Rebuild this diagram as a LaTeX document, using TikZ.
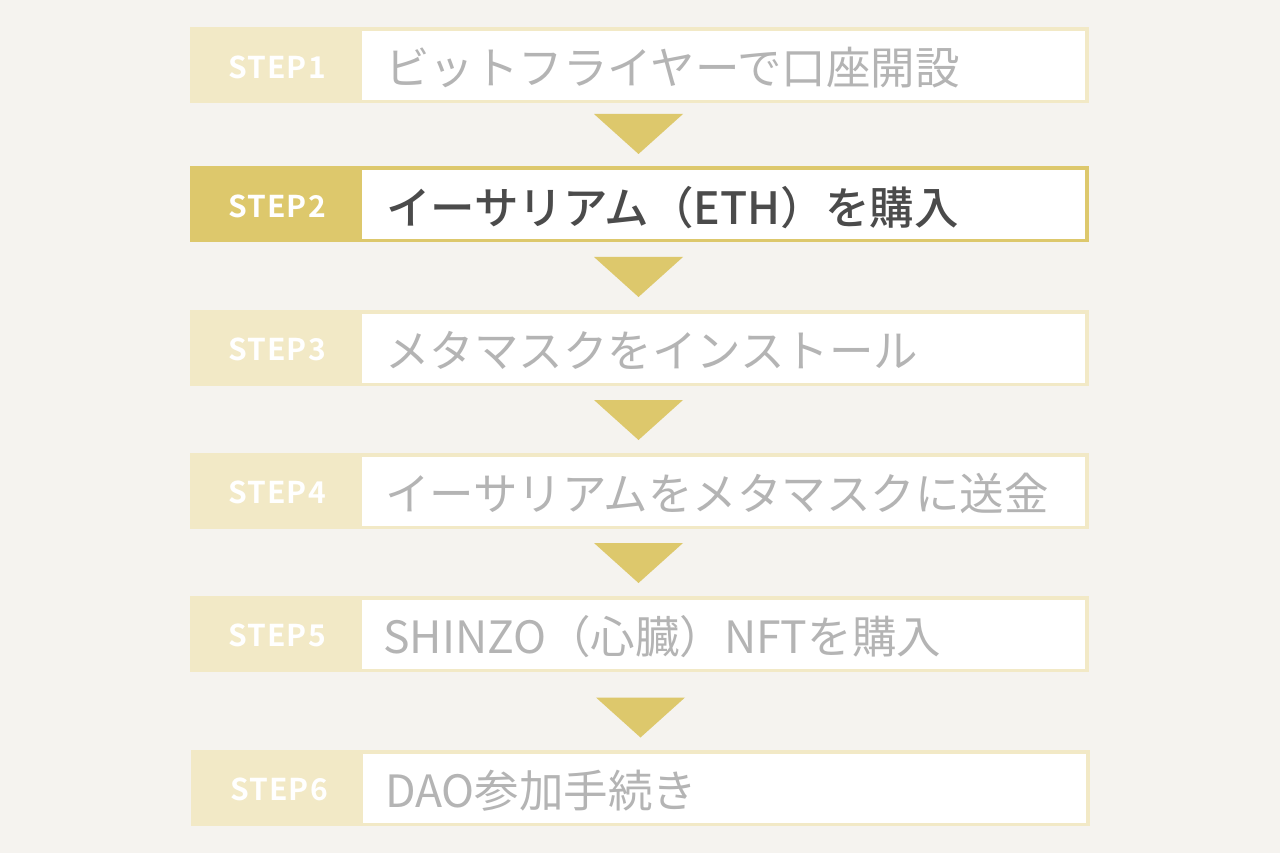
\documentclass[tikz,border=0pt]{standalone}
\usepackage{fontspec}
\setmainfont{Noto Sans CJK JP}
\newfontfamily\mediumfont{Noto Sans CJK JP Medium}
\newfontfamily\stepfont[LetterSpace=4]{Noto Sans CJK JP Bold}
\usetikzlibrary{positioning,calc}

\definecolor{bgcol}{HTML}{F5F3EF}
\definecolor{palegold}{HTML}{F2E9C6}
\definecolor{gold}{HTML}{DDC86C}
\definecolor{greytext}{HTML}{B4B4B4}
\definecolor{darktext}{HTML}{4B4B4B}

\tikzset{
    stepbox/.style={fill=palegold, minimum width=899pt, minimum height=76pt, inner sep=0pt},
    activebox/.style={stepbox, fill=gold},
    whitebox/.style={fill=white, minimum width=723pt, minimum height=69pt, inner sep=0pt, anchor=east},
    steplabel/.style={text=white, font=\stepfont\fontsize{30}{30}\selectfont, inner sep=0pt},
    steptext/.style={text=greytext, font=\fontsize{44.5}{44.5}\selectfont, inner sep=0pt, anchor=west},
    activetext/.style={steptext, text=darktext, font=\mediumfont\fontsize{44.5}{44.5}\selectfont},
    downarrow/.style={fill=gold}
}

\begin{document}
\begin{tikzpicture}[x=1pt,y=-1pt]
        \fill[bgcol] (0,0) rectangle (1280,853);
        \useasboundingbox (0,0) rectangle (1280,853);

        %%% Boxes
        \node[stepbox] (box1) at (639.5,65) {};
        \node[whitebox] (white1) at ([xshift=-4pt,yshift=-0.5pt]box1.east) {};
        \node[steplabel] (label1) at (277,67) {STEP1};
        \node[steptext] (text1) at (385,68) {ビットフライヤーで口座開設};

        \node[activebox] (box2) at (639.5,204.5) {};
        \node[whitebox] (white2) at ([xshift=-4pt,yshift=-0.5pt]box2.east) {};
        \node[steplabel] (label2) at (277,206.5) {STEP2};
        \node[activetext] (text2) at (386,207.5) {イーサリアム（ETH）を購入};

        \node[stepbox] (box3) at (639.5,347.5) {};
        \node[whitebox] (white3) at ([xshift=-4pt,yshift=-0.5pt]box3.east) {};
        \node[steplabel] (label3) at (277,349.5) {STEP3};
        \node[steptext] (text3) at (385,350.5) {メタマスクをインストール};

        \node[stepbox] (box4) at (639.5,490.5) {};
        \node[whitebox] (white4) at ([xshift=-4pt,yshift=-0.5pt]box4.east) {};
        \node[steplabel] (label4) at (277,492.5) {STEP4};
        \node[steptext] (text4) at (385,493.5) {イーサリアムをメタマスクに送金};

        \node[stepbox] (box5) at (639.5,633.5) {};
        \node[whitebox] (white5) at ([xshift=-4pt,yshift=-0.5pt]box5.east) {};
        \node[steplabel] (label5) at (277,635.5) {STEP5};
        \node[steptext] (text5) at (383,636.5) {SHINZO（心臓）NFTを購入};

        \node[stepbox] (box6) at (640.5,787.5) {};
        \node[whitebox] (white6) at ([xshift=-4pt,yshift=-0.5pt]box6.east) {};
        \node[steplabel] (label6) at (279,789.5) {STEP6};
        \node[steptext] (text6) at (385,790.5) {DAO参加手続き};

        %%% Arrows
        \coordinate (arrow1) at (638.5,134);
        \coordinate (arrow2) at (638.5,277);
        \coordinate (arrow3) at (638.5,420);
        \coordinate (arrow4) at (638.5,563);
        \coordinate (arrow6) at (640.5,717.5);
        \foreach \a in {arrow1,arrow2,arrow3,arrow4,arrow6}
            \fill[downarrow] ($(\a)+(-44.5,-20)$) -- ($(\a)+(44.5,-20)$) -- ($(\a)+(0,20)$) -- cycle;
    \end{tikzpicture}
\end{document}
